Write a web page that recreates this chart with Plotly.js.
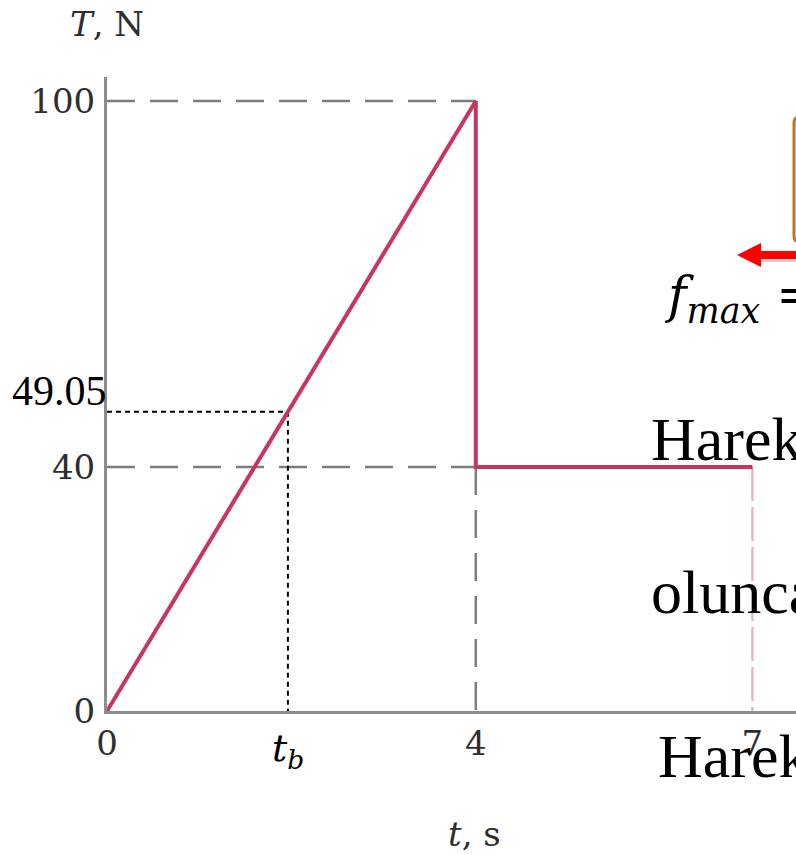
<!DOCTYPE html>
<html>
<head>
<meta charset="utf-8">
<script src="https://cdn.plot.ly/plotly-3.0.1.min.js"></script>
<style>
  html, body { margin: 0; padding: 0; background: #ffffff; overflow: hidden; }
  #chart { width: 796px; height: 855px; }
</style>
</head>
<body>
<div id="chart"></div>
<script>
// Tension T (N) applied over time t (s)
const timeS = [0, 4, 4, 7];
const tensionN = [0, 100, 40, 40];

// Axis ticks
const xTickVals = [0, 4, 7];
const xTickText = ['0', '4', '7'];
const yTickVals = [0, 40, 100];
const yTickText = ['0', '40', '100'];

// Tension at which the block starts to move (marked on the ramp)
const breakTension = [49.05];

// Slide text fragments beside the graph
const slideWords = ['Hareket', 'olunca', 'Hareket'];

// ---- layout geometry (pixels) ----
const W = 796, H = 855;
const M = { l: 107, r: 0, t: 77, b: 144 };
const plotW = W - M.l - M.r, plotH = H - M.t - M.b;
const px = x => (x - M.l) / plotW;          // pixel x -> paper x
const py = y => (H - M.b - y) / plotH;      // pixel y -> paper y

// start-of-motion time read along the linear ramp
const rampSlope = tensionN[1] / timeS[1];
const tBreak = breakTension[0] / rampSlope;

const gray = '#7d7d7d';
const red = '#c8355f';
const longDash = '28px,15px';

const traces = [
  // gray reference dashes
  { x: [0, timeS[1]], y: [tensionN[1], tensionN[1]], mode: 'lines',
    line: { color: gray, width: 2.5, dash: longDash }, hoverinfo: 'skip' },
  { x: [0, timeS[2]], y: [tensionN[2], tensionN[2]], mode: 'lines',
    line: { color: gray, width: 2.5, dash: longDash }, hoverinfo: 'skip' },
  { x: [timeS[2], timeS[2]], y: [tensionN[2], 0], mode: 'lines',
    line: { color: gray, width: 2.5, dash: longDash }, hoverinfo: 'skip' },
  // faint drop at the end of the constant stage
  { x: [timeS[3], timeS[3]], y: [tensionN[3], 0], mode: 'lines',
    line: { color: '#e9b3c3', width: 2.5, dash: '34px,6px' }, hoverinfo: 'skip' },
  // dotted guides for the start of motion
  { x: [0, tBreak], y: [breakTension[0], breakTension[0]], mode: 'lines',
    line: { color: '#000000', width: 2, dash: '5px,4px' }, hoverinfo: 'skip' },
  { x: [tBreak, tBreak], y: [breakTension[0], 0], mode: 'lines',
    line: { color: '#000000', width: 2, dash: '5px,4px' }, hoverinfo: 'skip' },
  // tension history
  { x: timeS, y: tensionN, mode: 'lines',
    line: { color: red, width: 4 }, hoverinfo: 'skip' }
];

const serif = 'DejaVu Serif, serif';
const times = 'Liberation Serif, Times New Roman, serif';

const annotations = [
  { xref: 'paper', yref: 'paper', x: 0, y: py(24), xanchor: 'center', yanchor: 'middle',
    text: '<i>T</i>, N', showarrow: false, font: { family: serif, size: 34, color: '#2e2e2e' } },
  { xref: 'paper', yref: 'paper', x: px(474), y: py(834), xanchor: 'center', yanchor: 'middle',
    text: '<i>t</i>, s', showarrow: false, font: { family: serif, size: 34, color: '#2e2e2e' } },
  { xref: 'paper', yref: 'y', x: 0, y: breakTension[0], xanchor: 'right', yanchor: 'bottom',
    xshift: 2, yshift: -4,
    text: breakTension[0].toFixed(2), showarrow: false, font: { family: times, size: 42, color: '#000000' } },
  { xref: 'x', yref: 'paper', x: tBreak, y: py(750), xanchor: 'center', yanchor: 'middle',
    text: '<i>t</i><sub><i>b</i></sub>', showarrow: false, font: { family: serif, size: 38, color: '#000000' } },
  { xref: 'paper', yref: 'paper', x: px(649), y: py(439), xanchor: 'left', yanchor: 'middle',
    text: slideWords[0], showarrow: false, font: { family: times, size: 62, color: '#000000' } },
  { xref: 'paper', yref: 'paper', x: px(649), y: py(592), xanchor: 'left', yanchor: 'middle',
    text: slideWords[1], showarrow: false, font: { family: times, size: 62, color: '#000000' } },
  { xref: 'paper', yref: 'paper', x: px(656), y: py(756), xanchor: 'left', yanchor: 'middle',
    text: slideWords[2], showarrow: false, font: { family: times, size: 62, color: '#000000' } },
  { xref: 'paper', yref: 'paper', x: px(662), y: py(298), xanchor: 'left', yanchor: 'middle',
    text: '<i>f</i><sub><i>max</i></sub> =', showarrow: false, font: { family: serif, size: 50, color: '#000000' } }
];

// red force arrow and the edge of the block box
const arrowY = 255;
const shapes = [
  { type: 'path', xref: 'paper', yref: 'paper', layer: 'above',
    path: `M ${px(835)},${py(117)} L ${px(800)},${py(117)} Q ${px(794)},${py(117)} ${px(794)},${py(123)} ` +
          `L ${px(794)},${py(236)} Q ${px(794)},${py(242)} ${px(800)},${py(242)} L ${px(835)},${py(242)}`,
    line: { color: '#bf7418', width: 3 }, fillcolor: 'rgba(0,0,0,0)' },
  { type: 'line', xref: 'paper', yref: 'paper', layer: 'above',
    x0: px(759), x1: px(800), y0: py(arrowY + 3), y1: py(arrowY + 3),
    line: { color: 'rgba(0,0,0,0.18)', width: 8 } },
  { type: 'line', xref: 'paper', yref: 'paper', layer: 'above',
    x0: px(757), x1: px(800), y0: py(arrowY), y1: py(arrowY),
    line: { color: '#ff0000', width: 8 } },
  { type: 'path', xref: 'paper', yref: 'paper', layer: 'above',
    path: `M ${px(737)},${py(arrowY)} L ${px(761)},${py(arrowY - 12)} L ${px(761)},${py(arrowY + 12)} Z`,
    line: { width: 0 }, fillcolor: '#ff0000' }
];

const layout = {
  width: W, height: H,
  margin: M,
  paper_bgcolor: '#ffffff', plot_bgcolor: '#ffffff',
  showlegend: false,
  xaxis: {
    range: [0, plotW / 92.2], showgrid: false, zeroline: false,
    showline: true, linecolor: '#8d8d8d', linewidth: 3,
    tickmode: 'array', tickvals: xTickVals, ticktext: xTickText,
    ticks: '', ticklabelstandoff: 0,
    tickfont: { family: serif, size: 34, color: '#2e2e2e' }
  },
  yaxis: {
    range: [0, plotH / 6.1], showgrid: false, zeroline: false,
    showline: true, linecolor: '#8d8d8d', linewidth: 3,
    tickmode: 'array', tickvals: yTickVals, ticktext: yTickText,
    ticks: '', ticklabelstandoff: 2,
    tickfont: { family: serif, size: 34, color: '#2e2e2e' }
  },
  annotations: annotations,
  shapes: shapes
};

Plotly.newPlot('chart', traces, layout, { staticPlot: true, displayModeBar: false });
</script>
</body>
</html>
